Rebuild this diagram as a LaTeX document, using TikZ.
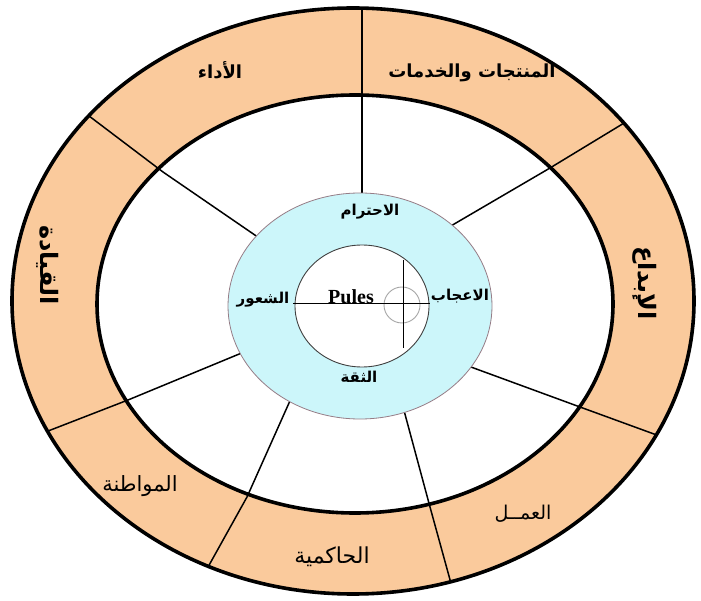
\documentclass[tikz,border=0pt]{standalone}
\usepackage{fontspec}
\setmainfont{Liberation Serif}
\newfontfamily\arabicfont[Script=Arabic]{DejaVu Sans}
\TeXXeTstate=1
\definecolor{peach}{RGB}{250,202,156}
\definecolor{paleblue}{RGB}{204,246,250}
\definecolor{cyanedge}{RGB}{150,125,135}
\tikzset{
  ringline/.style={line width=3.6pt, draw=black},
  spoke/.style={line width=1.5pt, draw=black},
  arlab/.style={font=\arabicfont\bfseries\fontsize{18}{20}\selectfont, inner sep=0pt},
  arlabbig/.style={font=\arabicfont\bfseries\fontsize{24}{26}\selectfont, inner sep=0pt},
  arlabthin/.style={font=\arabicfont\fontsize{19}{21}\selectfont, inner sep=0pt},
  cylab/.style={font=\arabicfont\bfseries\fontsize{15}{17}\selectfont, inner sep=0pt}
}
\begin{document}
\begin{tikzpicture}[x=1pt,y=-1pt]
\useasboundingbox (0,0) rectangle (701,601);
% rings
\fill[peach] (353,301) ellipse [x radius=341, y radius=293];
\fill[white] (355,304) ellipse [x radius=258, y radius=209];
% spokes (clipped to the outer ellipse)
\begin{scope}
\clip (353,301) ellipse [x radius=341, y radius=293];
\coordinate (c1) at (362,240); \coordinate (e1) at (362,-20);
\coordinate (c2) at (300,266); \coordinate (m2) at (163,172); \coordinate (e2) at (60,94);
\coordinate (c3) at (420,244); \coordinate (m3) at (550,168); \coordinate (e3) at (662,100);
\coordinate (c4) at (290,333); \coordinate (m4) at (128,400); \coordinate (e4) at (12,445);
\coordinate (c5) at (310,356); \coordinate (m5) at (247,497); \coordinate (e5) at (188,603);
\coordinate (c6) at (392,366); \coordinate (m6) at (430,507); \coordinate (e6) at (463,627);
\coordinate (c7) at (430,352); \coordinate (m7) at (580,407); \coordinate (e7) at (706,453);
\draw[spoke] (c1) -- (e1);
\draw[spoke] (c2) -- (m2) -- (e2);
\draw[spoke] (c3) -- (m3) -- (e3);
\draw[spoke] (c4) -- (m4) -- (e4);
\draw[spoke] (c5) -- (m5) -- (e5);
\draw[spoke] (c6) -- (m6) -- (e6);
\draw[spoke] (c7) -- (m7) -- (e7);
\end{scope}
\draw[ringline] (353,301) ellipse [x radius=341, y radius=293];
\draw[ringline] (355,304) ellipse [x radius=258, y radius=209];
% centre rings
\draw[fill=paleblue, draw=cyanedge, line width=0.8pt] (360,306) ellipse [x radius=132, y radius=113];
\draw[fill=white, draw=black!75, line width=0.9pt] (362,306) ellipse [x radius=67, y radius=61];
% cross and small circle
\coordinate (hl) at (293,304); \coordinate (hr) at (430,304);
\coordinate (vt) at (403,260); \coordinate (vb) at (403,348);
\draw[gray!70, line width=0.9pt] (402,305) circle [radius=18];
\draw[black, line width=1pt] (hl) -- (hr);
\draw[black, line width=1pt] (vt) -- (vb);
\node[font=\bfseries\fontsize{20}{22}\selectfont, inner sep=0pt, anchor=base] (pules) at (351,304) {Pules};
% outer labels
\node[arlab] (ada) at (220,70) {\beginR الأداء\endR};
\node[arlab] (muntajat) at (472,73) {\beginR المنتجات والخدمات\endR};
\node[arlabbig, rotate=-90] (qiyada) at (48,265) {\beginR القيادة\endR};
\node[arlabbig, rotate=-90] (ibdaa) at (645,283) {\beginR الإبداع\endR};
\node[arlabthin, font=\arabicfont\fontsize{21}{23}\selectfont] (muwatana) at (140,486) {\beginR المواطنة\endR};
\node[arlabthin, font=\arabicfont\fontsize{22}{24}\selectfont] (hakimiya) at (332,557) {\beginR الحاكمية\endR};
\node[arlabthin] (amal) at (523,514) {\beginR العمــل\endR};
% inner labels
\node[cylab] (ihtiram) at (370,212) {\beginR الاحترام\endR};
\node[cylab] (shuur) at (263,300) {\beginR الشعور\endR};
\node[cylab] (ijab) at (460,296) {\beginR الاعجاب\endR};
\node[cylab] (thiqa) at (359,377) {\beginR الثقة\endR};
\end{tikzpicture}
\end{document}
